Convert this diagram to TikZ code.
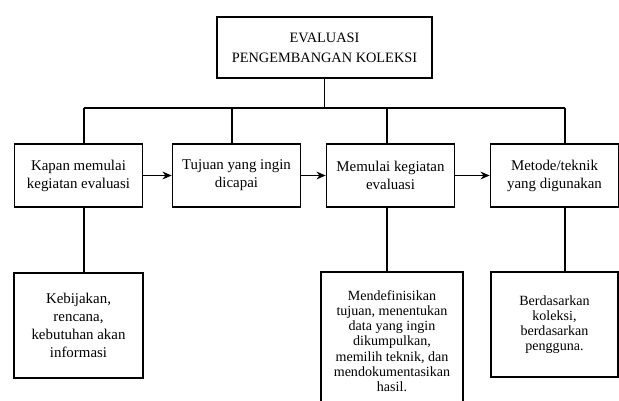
\documentclass[tikz,border=0pt]{standalone}
\usepackage{fontspec}
\setmainfont{Liberation Serif}
\usetikzlibrary{positioning,arrows.meta}

\begin{document}
\begin{tikzpicture}[x=0.025cm, y=-0.025cm,
    every node/.style={font=\fontsize{10.6}{12.8}\selectfont, align=center},
    stage/.style={draw, line width=1.2pt, minimum width=3.2cm, minimum height=1.575cm},
    detail/.style={draw, line width=1.2pt, minimum width=3.225cm, minimum height=2.625cm},
    tight/.style={font=\fontsize{10}{10.8}\selectfont},
    link/.style={line width=0.8pt},
    flow/.style={line width=0.8pt, -{Stealth[length=6.5pt,width=5.5pt]}}]

    \useasboundingbox (0,0) rectangle (619,401);

    % Nodes
    \node at (324.5,47.5) (judul) [draw, line width=1.8pt, minimum width=5.375cm, minimum height=1.525cm, font=\fontsize{10.2}{14}\selectfont] {EVALUASI\\PENGEMBANGAN KOLEKSI};
    \node at (78.5,175.5) (kapan) [stage] {Kapan memulai\\kegiatan evaluasi};
    \node at (236.5,175.5) (tujuan) [stage] {Tujuan yang ingin\\dicapai};
    \node at (390.5,175.5) (mulai) [stage] {Memulai kegiatan\\evaluasi};
    \node at (554.5,175.5) (metode) [stage] {Metode/teknik\\yang digunakan};
    \node at (78.5,325.5) (kebijakan) [detail] {Kebijakan,\\rencana,\\kebutuhan akan\\informasi};
    \node at (392,341) (definisi) [detail, tight, minimum width=3.55cm, minimum height=3.45cm] {Mendefinisikan\\tujuan, menentukan\\data yang ingin\\dikumpulkan,\\memilih teknik, dan\\mendokumentasikan\\hasil.};
    \node at (554.5,324.5) (dasar) [detail, tight, minimum width=3.175cm] {Berdasarkan\\koleksi,\\berdasarkan\\pengguna.};

    % Bar
    \coordinate (bar1) at (84,108);
    \coordinate (bar2) at (232,108);
    \coordinate (bar3) at (387,108);
    \coordinate (bar4) at (565,108);

    % Lines
    \draw[link] (judul.south) -- (judul.south |- bar1);
    \draw[link] (bar1) -- (bar4);
    \draw[link] (bar1) -- (bar1 |- kapan.north);
    \draw[link] (bar2) -- (bar2 |- tujuan.north);
    \draw[link] (bar3) -- (bar3 |- mulai.north);
    \draw[link] (bar4) -- (bar4 |- metode.north);
    \draw[link] (bar1 |- kapan.south) -- (bar1 |- kebijakan.north);
    \draw[link] (bar3 |- mulai.south) -- (bar3 |- definisi.north);
    \draw[link] (bar4 |- metode.south) -- (bar4 |- dasar.north);

    % Arrows
    \draw[flow] (kapan) -- (tujuan);
    \draw[flow] (tujuan) -- (mulai);
    \draw[flow] (mulai) -- (metode);

\end{tikzpicture}
\end{document}
